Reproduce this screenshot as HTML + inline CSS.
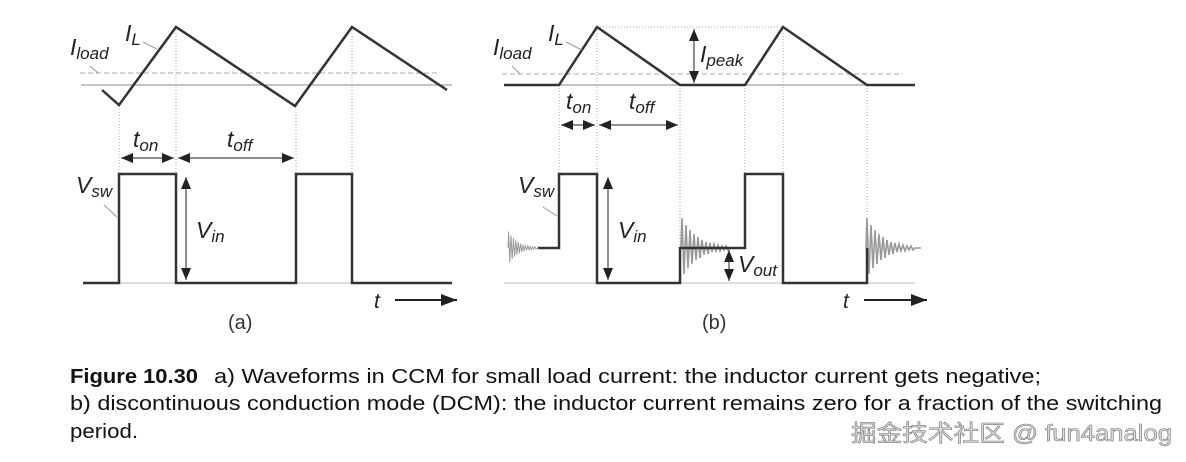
<!DOCTYPE html>
<html><head><meta charset="utf-8"><style>
html,body{margin:0;padding:0;background:#fff;}
svg{display:block;}
.lbl{font-family:"Liberation Sans",sans-serif;font-style:italic;fill:#222;}
</style></head><body>
<svg width="1186" height="462" viewBox="0 0 1186 462" xmlns="http://www.w3.org/2000/svg">
<defs>
<marker id="ah" markerWidth="12" markerHeight="10" refX="12" refY="5" orient="auto-start-reverse" markerUnits="userSpaceOnUse"><path d="M0,0 L12,5 L0,10 Z" fill="#222"/></marker>
<marker id="ahb" markerWidth="16" markerHeight="12" refX="16" refY="6" orient="auto" markerUnits="userSpaceOnUse"><path d="M0,0 L16,6 L0,12 Z" fill="#222"/></marker>
<path id="ring" d="M0,0 L1,-30 L3,26 L5,-23 L7,20 L9,-18 L11,16 L13,-14 L15,12 L17,-11 L19,10 L21,-8 L23,7 L25,-6 L27,6 L29,-5 L31,4 L33,-4 L35,3 L37,-3 L39,3 L41,-2 L43,2 L45,-2 L47,2 L49,0 L55,0" fill="none" stroke="#999" stroke-width="1.6"/>
</defs>

<!-- Panel A -->
<g>
<line x1="81" y1="85" x2="452" y2="85" stroke="#888" stroke-width="1"/>
<line x1="80" y1="73" x2="440" y2="73" stroke="#aaa" stroke-width="1" stroke-dasharray="5,3"/>
<line x1="83" y1="283" x2="452" y2="283" stroke="#bbb" stroke-width="1"/>
<g stroke="#aaa" stroke-width="1" stroke-dasharray="1,2">
<line x1="119" y1="106" x2="119" y2="174"/>
<line x1="176" y1="27" x2="176" y2="283"/>
<line x1="296" y1="106" x2="296" y2="174"/>
<line x1="352" y1="27" x2="352" y2="283"/>
</g>
<polyline points="102,90 119,105 176,27 295,106 352,27 447,90" fill="none" stroke="#333" stroke-width="2.5"/>
<polyline points="83,283 119,283 119,174 176,174 176,283 296,283 296,174 352,174 352,283 452,283" fill="none" stroke="#333" stroke-width="2.5"/>
<line x1="121" y1="158" x2="174" y2="158" stroke="#222" stroke-width="1" marker-start="url(#ah)" marker-end="url(#ah)"/>
<line x1="178" y1="158" x2="294" y2="158" stroke="#222" stroke-width="1" marker-start="url(#ah)" marker-end="url(#ah)"/>
<line x1="186" y1="177" x2="186" y2="280" stroke="#222" stroke-width="1" marker-start="url(#ah)" marker-end="url(#ah)"/>
<line x1="143" y1="42" x2="157" y2="49" stroke="#999" stroke-width="1"/>
<line x1="90" y1="66" x2="98" y2="73" stroke="#999" stroke-width="1"/>
<line x1="104" y1="205" x2="117" y2="217" stroke="#999" stroke-width="1"/>
<text class="lbl" x="125" y="41" font-size="23">I<tspan font-size="17" dy="4">L</tspan></text>
<text class="lbl" x="70" y="55" font-size="23">I<tspan font-size="17" dy="4">load</tspan></text>
<text class="lbl" x="133" y="147" font-size="23">t<tspan font-size="17" dy="4">on</tspan></text>
<text class="lbl" x="227" y="147" font-size="23">t<tspan font-size="17" dy="4">off</tspan></text>
<text class="lbl" x="76" y="193" font-size="23">V<tspan font-size="17" dy="4">sw</tspan></text>
<text class="lbl" x="196" y="238" font-size="23">V<tspan font-size="17" dy="4">in</tspan></text>
<text class="lbl" x="374" y="308" font-size="21">t</text>
<line x1="395" y1="300" x2="457" y2="300" stroke="#222" stroke-width="2" marker-end="url(#ahb)"/>
<text x="228" y="329" font-family="Liberation Sans,sans-serif" font-size="20" fill="#333">(a)</text>
</g>

<!-- Panel B -->
<g>
<line x1="504" y1="85" x2="915" y2="85" stroke="#888" stroke-width="1"/>
<line x1="502" y1="74" x2="903" y2="74" stroke="#aaa" stroke-width="1" stroke-dasharray="5,3"/>
<line x1="504" y1="283" x2="915" y2="283" stroke="#bbb" stroke-width="1"/>
<g stroke="#aaa" stroke-width="1" stroke-dasharray="1,2">
<line x1="597" y1="27" x2="783" y2="27"/>
<line x1="559" y1="85" x2="559" y2="174"/>
<line x1="597" y1="27" x2="597" y2="283"/>
<line x1="680" y1="85" x2="680" y2="248"/>
<line x1="745" y1="85" x2="745" y2="174"/>
<line x1="783" y1="27" x2="783" y2="283"/>
<line x1="867" y1="85" x2="867" y2="248"/>
</g>
<polyline points="504,85 559,85 597,27 680,85 745,85 783,27 867,85 915,85" fill="none" stroke="#333" stroke-width="2.5"/>
<use href="#ring" transform="translate(508,248) scale(0.6,0.55)"/>
<use href="#ring" transform="translate(681,248)"/>
<use href="#ring" transform="translate(866,248)"/>
<polyline points="538,248 559,248 559,174 597,174 597,283 680,283 680,248 745,248 745,174 783,174 783,283 867,283 867,248" fill="none" stroke="#333" stroke-width="2.5"/>
<line x1="561" y1="125" x2="595" y2="125" stroke="#222" stroke-width="1" marker-start="url(#ah)" marker-end="url(#ah)"/>
<line x1="599" y1="125" x2="678" y2="125" stroke="#222" stroke-width="1" marker-start="url(#ah)" marker-end="url(#ah)"/>
<line x1="608" y1="177" x2="608" y2="280" stroke="#222" stroke-width="1" marker-start="url(#ah)" marker-end="url(#ah)"/>
<line x1="694" y1="29" x2="694" y2="83" stroke="#222" stroke-width="1" marker-start="url(#ah)" marker-end="url(#ah)"/>
<line x1="729" y1="250" x2="729" y2="281" stroke="#222" stroke-width="1" marker-start="url(#ah)" marker-end="url(#ah)"/>
<line x1="566" y1="42" x2="582" y2="50" stroke="#999" stroke-width="1"/>
<line x1="512" y1="66" x2="520" y2="74" stroke="#999" stroke-width="1"/>
<line x1="543" y1="207" x2="557" y2="216" stroke="#999" stroke-width="1"/>
<text class="lbl" x="548" y="41" font-size="23">I<tspan font-size="17" dy="4">L</tspan></text>
<text class="lbl" x="493" y="55" font-size="23">I<tspan font-size="17" dy="4">load</tspan></text>
<text class="lbl" x="700" y="62" font-size="23">I<tspan font-size="17" dy="4">peak</tspan></text>
<text class="lbl" x="566" y="109" font-size="23">t<tspan font-size="17" dy="4">on</tspan></text>
<text class="lbl" x="629" y="109" font-size="23">t<tspan font-size="17" dy="4">off</tspan></text>
<text class="lbl" x="518" y="193" font-size="23">V<tspan font-size="17" dy="4">sw</tspan></text>
<text class="lbl" x="618" y="238" font-size="23">V<tspan font-size="17" dy="4">in</tspan></text>
<text class="lbl" x="738" y="272" font-size="23">V<tspan font-size="17" dy="4">out</tspan></text>
<text class="lbl" x="843" y="308" font-size="21">t</text>
<line x1="864" y1="300" x2="927" y2="300" stroke="#222" stroke-width="2" marker-end="url(#ahb)"/>
<text x="702" y="329" font-family="Liberation Sans,sans-serif" font-size="20" fill="#333">(b)</text>
</g>

<!-- Caption -->
<g font-family="Liberation Sans,sans-serif" font-size="20" fill="#111">
<text x="70" y="383" font-weight="bold" textLength="128" lengthAdjust="spacingAndGlyphs">Figure 10.30</text>
<text x="214" y="383" textLength="827" lengthAdjust="spacingAndGlyphs">a) Waveforms in CCM for small load current: the inductor current gets negative;</text>
<text x="70" y="410" textLength="1092" lengthAdjust="spacingAndGlyphs">b) discontinuous conduction mode (DCM): the inductor current remains zero for a fraction of the switching</text>
<text x="70" y="438" textLength="68" lengthAdjust="spacingAndGlyphs">period.</text>
</g>
<text x="851" y="441" font-family="Liberation Sans,Noto Sans CJK SC,sans-serif" font-size="23" fill="#ddd" stroke="#777" stroke-width="0.6" textLength="321" lengthAdjust="spacingAndGlyphs">掘金技术社区 @ fun4analog</text>
</svg>
</body></html>
